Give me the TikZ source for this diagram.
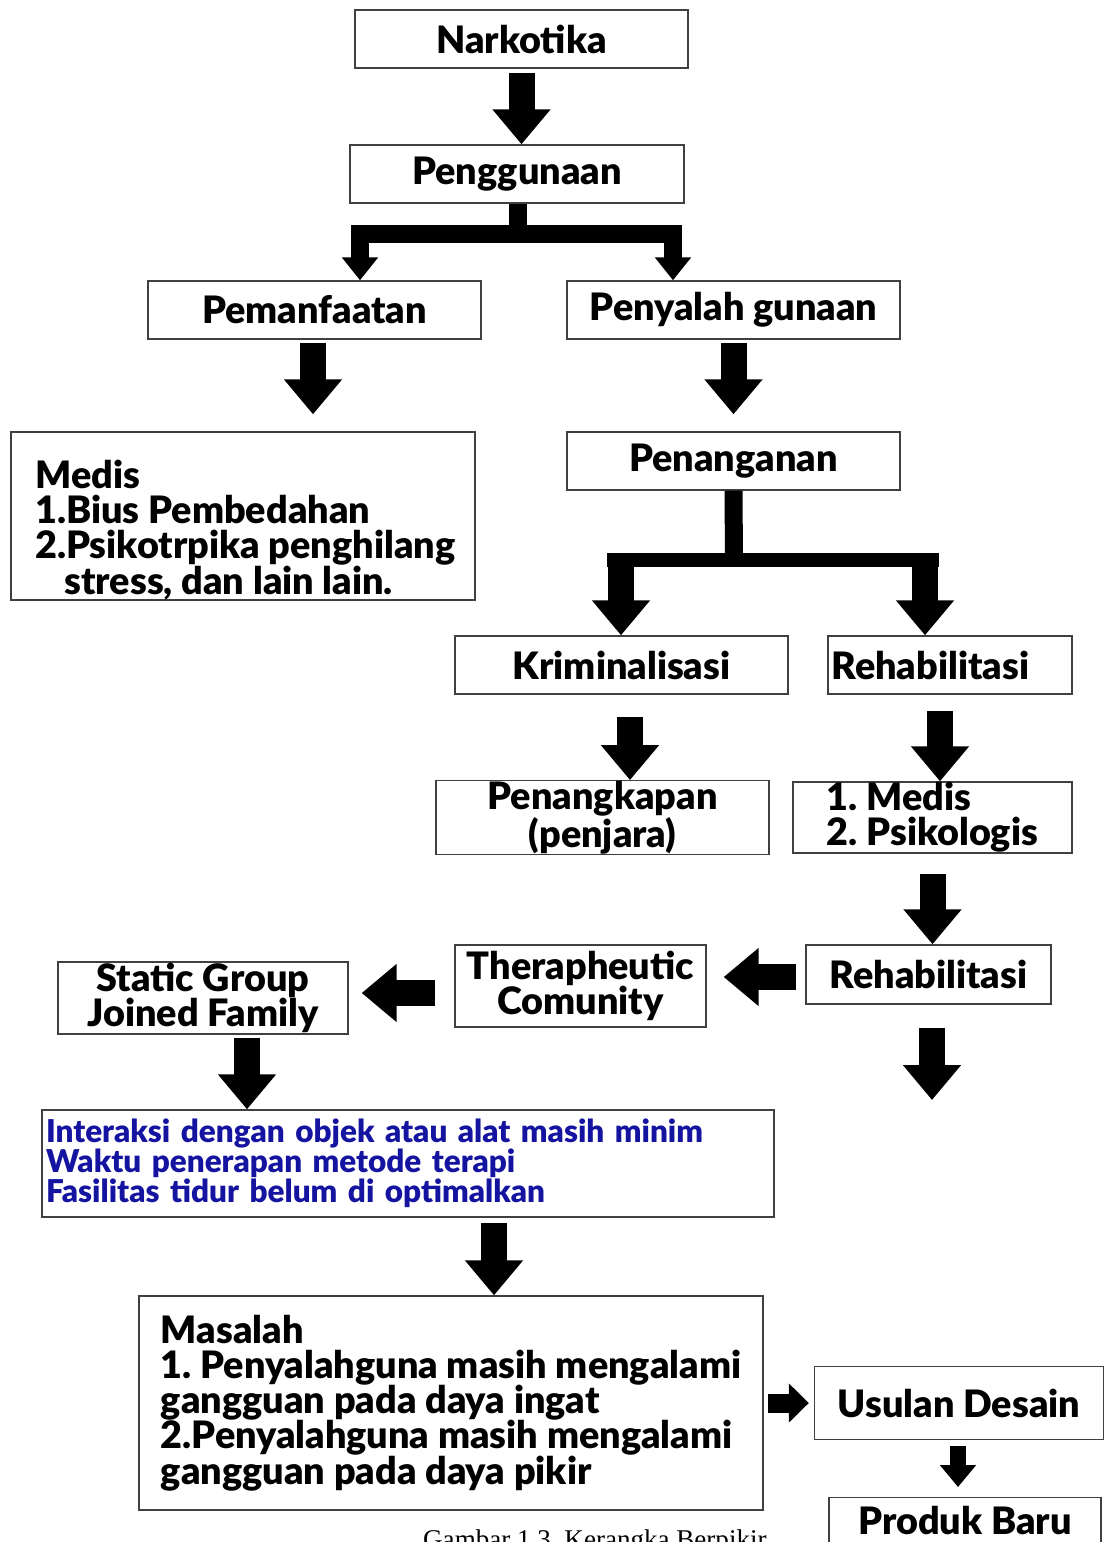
\documentclass[tikz,border=0pt]{standalone}
\usepackage{fontspec}
\setmainfont{Lato}[BoldFont={Lato Black}]
\newfontfamily\capfont{Liberation Serif}
\usetikzlibrary{arrows.meta,positioning}
\definecolor{birutua}{RGB}{20,20,160}
\frenchspacing
\tikzset{
  kotak/.style={draw=black!75, line width=0.8pt, minimum height=1.16cm, minimum width=6.66cm,
    inner sep=0pt, align=center, font=\fontsize{21.5}{20}\selectfont\bfseries},
  teks/.style={inner sep=0pt, align=left, font=\fontsize{21.5}{20}\selectfont\bfseries},
  blok/.style={line width=0.52cm, -{Triangle[length=0.7cm,width=1.12cm]}},
  cabang/.style={line width=0.36cm, -{Triangle[length=0.46cm,width=0.7cm]}},
  bloka/.style={line width=0.38cm, -{Triangle[length=0.4cm,width=0.76cm]}},
  blokb/.style={line width=0.32cm, -{Triangle[length=0.44cm,width=0.7cm]}}
}
\begin{document}
\begin{tikzpicture}[x=0.02cm,y=-0.02cm]
    \useasboundingbox (0,0) rectangle (1104,1542);
    \clip (0,0) rectangle (1104,1542);
    % kotak-kotak
    \node[kotak] (narko) at (521.5,39) {Narkotika};
    \node[kotak, minimum width=6.68cm] (guna) at (517,174) {Penggunaan};
    \node[kotak] (manfaat) at (314.5,310) {Pemanfaatan};
    \node[kotak] (salah) at (733.5,310) {Penyalah gunaan};
    \node[kotak, minimum width=9.28cm, minimum height=3.36cm] (medis) at (243,516) {};
    \node[teks, anchor=west] (medisteks) at (35,530)
      {Medis\\1.Bius Pembedahan\\2.Psikotrpika penghilang\\\hspace*{0.58cm}stress, dan lain lain.};
    \node[kotak] (tangani) at (733.5,461) {Penanganan};
    \node[kotak] (krim) at (621.5,665) {Kriminalisasi};
    \node[kotak, minimum width=4.88cm, text width=4.74cm, align=left] (rehab) at (950,665) {Rehabilitasi};
    \node[kotak, minimum height=1.42cm] (tangkap) at (602.5,817.5) {Penangkapan\\(penjara)};
    \node[kotak, minimum width=5.58cm, minimum height=1.42cm, align=left] (terapi) at (932.5,817.5)
      {1. Medis\\2. Psikologis};
    \node[kotak, minimum width=4.9cm, minimum height=1.18cm] (rehabb) at (928.5,974.5) {Rehabilitasi};
    \node[kotak, minimum width=5.02cm, minimum height=1.64cm] (tc) at (580.5,986) {Therapheutic\\Comunity};
    \node[kotak, minimum width=5.8cm, minimum height=1.44cm] (static) at (203,998) {Static Group\\Joined Family};
    \node[kotak, minimum width=14.64cm, minimum height=2.14cm, text width=14.48cm, align=left,
      text=birutua, font=\fontsize{17.9}{17}\selectfont\bfseries] (interaksi) at (408,1163.5)
      {Interaksi dengan objek atau alat masih minim\\Waktu penerapan metode terapi\\Fasilitas tidur belum di optimalkan};
    \node[kotak, minimum width=12.48cm, minimum height=4.28cm, align=left] (masalah) at (451,1403)
      {Masalah\\1. Penyalahguna masih mengalami\\gangguan pada daya ingat\\2.Penyalahguna masih mengalami\\gangguan pada daya pikir};
    \node[kotak, minimum width=5.78cm, minimum height=1.46cm] (usulan) at (959,1403) {Usulan Desain};
    \node[kotak, minimum width=5.44cm, minimum height=0.9cm, anchor=north] (produk) at (965,1497) {Produk Baru};
    \node[font=\capfont\fontsize{15.4}{16}\selectfont, anchor=base west] (judul) at (417,1548)
      {Gambar 1.3. Kerangka Berpikir};

    % panah
    \draw[blok, shorten <=0.08cm] (narko.south) -- (narko.south |- guna.north);
    \draw[cabang] (guna.south -| 518,0) -- (518,234) -| (manfaat.north -| 360,0);
    \draw[cabang] (guna.south -| 518,0) -- (518,234) -| (salah.north -| 673,0);
    \draw[blok, shorten <=0.06cm, shorten >=0.34cm] (manfaat.south -| 313,0) -- (medis.north -| 313,0);
    \draw[blok, shorten <=0.06cm, shorten >=0.34cm] (salah.south) -- (tangani.north);
    % cabang penanganan
    \draw[line width=0.36cm] (tangani.south) -- (734,560);
    \draw[line width=0.28cm] (607,560) -- (939,560);
    \draw[blok] (621,553) -- (krim.north -| 621,0);
    \draw[blok] (925,553) -- (rehab.north -| 925,0);
    \draw[blok, shorten <=0.44cm] (krim.south -| 630,0) -- (tangkap.north -| 630,0);
    \draw[blok, shorten <=0.32cm] (rehab.south -| 940,0) -- (terapi.north -| 940,0);
    \draw[blok, shorten <=0.4cm] (terapi.south) -- (terapi.south |- rehabb.north);
    \draw[blok, shorten <=0.18cm, shorten >=0.34cm] (rehabb.west |- 0,977) -- (tc.east |- 0,977);
    \draw[blok, shorten <=0.38cm, shorten >=0.26cm] (tc.west |- 0,993) -- (static.east |- 0,993);
    \coordinate (ujung) at (932,1100);
    \draw[blok, shorten <=0.46cm] (rehabb.south -| ujung) -- (ujung);
    \draw[blok, shorten <=0.06cm] (static.south -| 247,0) -- (interaksi.north -| 247,0);
    \draw[blok, shorten <=0.1cm] (interaksi.south -| 494,0) -- (masalah.north -| 494,0);
    \draw[bloka, shorten <=0.08cm, shorten >=0.1cm] (masalah.east |- usulan) -- (usulan.west);
    \draw[blokb, shorten <=0.12cm, shorten >=0.2cm] (usulan.south -| 958,0) -- (produk.north -| 958,0);
\end{tikzpicture}
\end{document}
